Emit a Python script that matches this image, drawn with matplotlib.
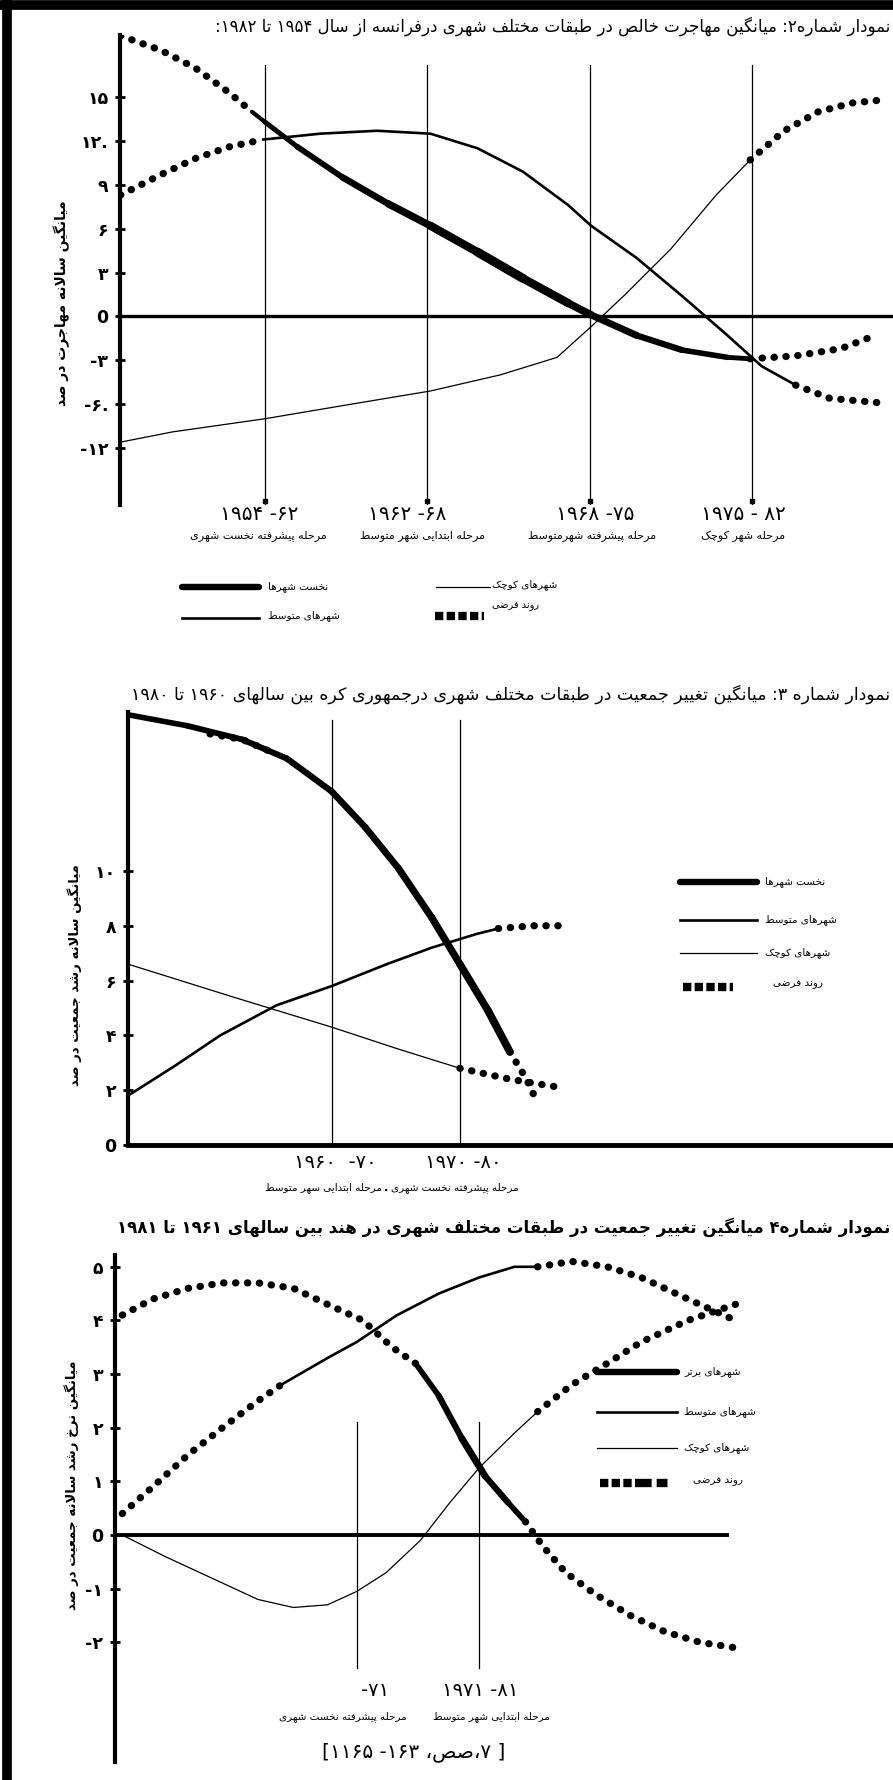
import re
import numpy as np
import matplotlib.pyplot as plt
from matplotlib.lines import Line2D
from matplotlib.collections import LineCollection

W, H = 893, 1780
plt.rcParams['font.family'] = ['DejaVu Sans']

# ---- chart 1: France, net migration (x = stage index, dividers at 1..4) ----
fr_yticks = [15, 12, 9, 6, 3, 0, -3, -6, -9]
fr_yticklabels = ['۱۵', '۱۲.', '۹', '۶', '۳', '0', '-۳', '-۶.', '-۱۲']
fr_periods = ['۱۹۵۴ -۶۲', '۱۹۶۲ -۶۸', '۱۹۶۸ -۷۵', '۱۹۷۵ - ۸۲']
fr_stages = ['مرحله پیشرفته نخست شهری', 'مرحله ابتدایی شهر متوسط',
             'مرحله پیشرفته شهرمتوسط', 'مرحله شهر کوچک']
fr_prime_x = [0.92, 1.0, 1.2, 1.48, 1.76, 2.02, 2.31, 2.59, 2.87, 3.01, 3.29, 3.57, 3.85, 3.99]
fr_prime_y = [14.0, 13.3, 11.6, 9.5, 7.7, 6.2, 4.4, 2.6, 0.9, 0.1, -1.3, -2.3, -2.8, -2.9]
fr_prime_pre_x = [0.11, 0.36, 0.57, 0.78, 0.92]
fr_prime_pre_y = [19.2, 18.2, 17.0, 15.3, 14.0]
fr_prime_post_x = [3.99, 4.27, 4.55, 4.76]
fr_prime_post_y = [-2.9, -2.7, -2.2, -1.3]
fr_mid_x = [0.99, 1.34, 1.69, 2.02, 2.31, 2.59, 2.87, 3.01, 3.29, 3.57, 3.85, 4.06, 4.27]
fr_mid_y = [12.1, 12.5, 12.7, 12.5, 11.5, 9.9, 7.6, 6.2, 4.0, 1.4, -1.3, -3.4, -4.7]
fr_mid_pre_x = [0.11, 0.36, 0.57, 0.78, 0.99]
fr_mid_pre_y = [8.3, 9.7, 10.8, 11.6, 12.1]
fr_mid_post_x = [4.27, 4.48, 4.78]
fr_mid_post_y = [-4.7, -5.6, -5.9]
fr_small_x = [0.11, 0.43, 1.0, 1.48, 2.02, 2.45, 2.80, 3.01, 3.22, 3.50, 3.78, 3.99]
fr_small_y = [-8.6, -7.9, -7.0, -6.1, -5.1, -4.0, -2.8, -0.7, 1.5, 4.6, 8.3, 10.7]
fr_small_post_x = [3.99, 4.20, 4.41, 4.62, 4.80]
fr_small_post_y = [10.7, 12.7, 14.0, 14.6, 14.8]

# ---- chart 2: Korea, population growth (dividers at 1, 2) ----
kr_yticks = [10, 8, 6, 4, 2, 0]
kr_yticklabels = ['۱۰', '۸', '۶', '۴', '۲', '0']
kr_periods = ['۱۹۶۰  -۷۰', '۱۹۷۰ -۸۰']
kr_prime_x = [-0.59, -0.13, 0.30, 0.65, 1.0, 1.26, 1.52, 1.78, 2.0, 2.22, 2.39]
kr_prime_y = [15.7, 15.3, 14.8, 14.1, 12.9, 11.6, 10.1, 8.3, 6.6, 4.9, 3.4]
kr_prime_hyp_x = [0.05, 0.30, 0.55]
kr_prime_hyp_y = [15.0, 14.8, 14.3]
kr_prime_post_x = [2.39, 2.52, 2.61]
kr_prime_post_y = [3.4, 2.4, 1.5]
kr_mid_x = [-0.59, -0.22, 0.13, 0.57, 1.0, 1.43, 1.78, 2.13, 2.30]
kr_mid_y = [1.8, 2.9, 4.0, 5.1, 5.8, 6.6, 7.2, 7.7, 7.9]
kr_mid_post_x = [2.30, 2.57, 2.78]
kr_mid_post_y = [7.9, 8.0, 8.0]
kr_small_x = [-0.59, 0.23, 1.0, 1.52, 2.0]
kr_small_y = [6.6, 5.4, 4.3, 3.5, 2.8]
kr_small_post_x = [2.0, 2.39, 2.78]
kr_small_post_y = [2.8, 2.4, 2.1]

# ---- chart 3: India, population growth (dividers at 1, 2) ----
in_yticks = [5, 4, 3, 2, 1, 0, -1, -2]
in_yticklabels = ['۵', '۴', '۳', '۲', '۱', '0', '-۱', '-۲']
in_periods = ['-۷۱', '۱۹۷۱ -۸۱']
in_stages = ['مرحله پیشرفته نخست شهری', 'مرحله ابتدایی شهر متوسط']
in_prime_pre_x = [-0.92, -0.67, -0.38, -0.10, 0.19, 0.48, 0.76, 1.05, 1.29, 1.48]
in_prime_pre_y = [4.1, 4.4, 4.6, 4.7, 4.7, 4.6, 4.3, 4.0, 3.5, 3.2]
in_prime_x = [1.48, 1.67, 1.86, 2.05, 2.24, 2.38]
in_prime_y = [3.2, 2.6, 1.8, 1.1, 0.6, 0.25]
in_prime_post_x = [2.38, 2.52, 2.71, 2.95, 3.24, 3.52, 3.81, 4.10]
in_prime_post_y = [0.25, -0.2, -0.7, -1.1, -1.5, -1.8, -2.0, -2.1]
in_mid_pre_x = [-0.92, -0.67, -0.38, -0.10, 0.19, 0.38]
in_mid_pre_y = [0.4, 0.9, 1.5, 2.0, 2.5, 2.8]
in_mid_x = [0.38, 0.76, 1.0, 1.33, 1.67, 2.0, 2.29, 2.48]
in_mid_y = [2.8, 3.3, 3.6, 4.1, 4.5, 4.8, 5.0, 5.0]
in_mid_post_x = [2.48, 2.76, 3.05, 3.33, 3.71, 4.10]
in_mid_post_y = [5.0, 5.1, 5.0, 4.8, 4.4, 4.0]
in_small_x = [-0.92, -0.57, -0.19, 0.19, 0.48, 0.76, 1.0, 1.24, 1.52, 1.76, 2.0, 2.29, 2.48]
in_small_y = [0.0, -0.4, -0.8, -1.2, -1.35, -1.3, -1.05, -0.7, -0.1, 0.6, 1.25, 1.9, 2.3]
in_small_post_x = [2.48, 2.76, 3.05, 3.33, 3.71, 4.10]
in_small_post_y = [2.3, 2.8, 3.2, 3.6, 4.0, 4.3]

# ---- simple persian shaping for DejaVu Sans (no RTL support in mpl) ----
FOUR = {'ب': 0xFE8F, 'ت': 0xFE95, 'ث': 0xFE99, 'ج': 0xFE9D, 'ح': 0xFEA1, 'خ': 0xFEA5,
        'س': 0xFEB1, 'ش': 0xFEB5, 'ص': 0xFEB9, 'ض': 0xFEBD, 'ط': 0xFEC1, 'ظ': 0xFEC5,
        'ع': 0xFEC9, 'غ': 0xFECD, 'ف': 0xFED1, 'ق': 0xFED5, 'ل': 0xFEDD, 'م': 0xFEE1,
        'ن': 0xFEE5, 'ه': 0xFEE9, 'ئ': 0xFE89, 'پ': 0xFB56, 'چ': 0xFB7A, 'ک': 0xFB8E,
        'گ': 0xFB92, 'ی': 0xFBFC}
TWO = {'ا': 0xFE8D, 'آ': 0xFE81, 'د': 0xFEA9, 'ذ': 0xFEAB, 'ر': 0xFEAD, 'ز': 0xFEAF,
       'ژ': 0xFB8A, 'و': 0xFEED}


def fa(text):
    out = []
    i, n = 0, len(text)
    while i < n:
        c = text[i]
        prev = text[i - 1] if i > 0 else ''
        nxt = text[i + 1] if i + 1 < n else ''
        p = prev in FOUR
        if c == 'ل' and nxt in ('ا', 'آ'):
            base = 0xFEFB if nxt == 'ا' else 0xFEF5
            out.append(chr(base + (1 if p else 0)))
            i += 2
            continue
        if c in FOUR:
            q = nxt in FOUR or nxt in TWO
            out.append(chr(FOUR[c] + (3 if p and q else 1 if p else 2 if q else 0)))
        elif c in TWO:
            out.append(chr(TWO[c] + (1 if p else 0)))
        elif c != '\u200c':
            out.append(c)
        i += 1
    s = ''.join(out[::-1])
    s = re.sub(r'[0-9۰-۹]+', lambda m: m.group(0)[::-1], s)
    return s.translate(str.maketrans('()[]', ')(]['))


fig = plt.figure(figsize=(W / 100, H / 100), dpi=100)


def px_axes(l, t, r, b):
    return fig.add_axes([l / W, 1 - b / H, (r - l) / W, (b - t) / H])


def ftext(x, y, s, **kw):
    kw.setdefault('va', 'center')
    fig.text(x / W, 1 - y / H, s, **kw)


def fline(x0, x1, y, **kw):
    fig.add_artist(Line2D([x0 / W, x1 / W], [1 - y / H] * 2, transform=fig.transFigure, **kw))


def tapered(ax, xs, ys, w0, w1, w2):
    # hand drawn thick line: thin at both ends, heavy in the middle
    pts = np.column_stack([xs, ys])
    segs = np.stack([pts[:-1], pts[1:]], axis=1)
    t = np.linspace(0, 1, len(segs))
    widths = np.where(t < 0.5, w0 + (w1 - w0) * t * 2, w1 + (w2 - w1) * (t - 0.5) * 2)
    ax.add_collection(LineCollection(segs, linewidths=widths, colors='k', capstyle='round'))


THICK = dict(color='k', lw=4.6, solid_capstyle='round')
MED = dict(color='k', lw=1.9)
THIN = dict(color='k', lw=0.9)
DOT = dict(color='k', lw=5.2, linestyle=(0, (0.05, 1.6)), dash_capstyle='round')
SQUARES = dict(color='k', lw=6, linestyle=(0, (1.0, 0.4)))


def base_axes(ax, xlim, ylim, ticks, labels):
    ax.set_xlim(xlim)
    ax.set_ylim(ylim)
    ax.patch.set_alpha(0)
    for s in ['top', 'right', 'bottom']:
        ax.spines[s].set_visible(False)
    ax.spines['left'].set_linewidth(3)
    ax.set_xticks([])
    ax.set_yticks(ticks)
    ax.set_yticklabels(labels, fontsize=12.5, fontweight='bold')
    ax.tick_params(axis='y', direction='inout', length=7, width=2, pad=5)


# border of the scanned page
fline(0, W, 5, color='k', lw=7)
fig.add_artist(Line2D([7 / W, 7 / W], [0, 1], transform=fig.transFigure, color='k', lw=7))

# ================= chart 1 =================
ax1 = px_axes(120, 35, 893, 505)
base_axes(ax1, (0.107, 4.87), (-12.9, 19.25), fr_yticks, fr_yticklabels)
ax1.axhline(0, color='k', lw=2.4)
for k in range(1, 5):
    ax1.plot([k, k], [17.2, -12.9], color='k', lw=0.9)
    ax1.plot([k], [-12.6], marker='s', ms=3, color='k', clip_on=False)
ax1.plot(fr_prime_pre_x, fr_prime_pre_y, **DOT)
tapered(ax1, fr_prime_x, fr_prime_y, 3.0, 6.5, 3.5)
ax1.plot(fr_prime_post_x, fr_prime_post_y, **DOT)
ax1.plot(fr_mid_pre_x, fr_mid_pre_y, **DOT)
ax1.plot(fr_mid_x, fr_mid_y, **MED)
ax1.plot(fr_mid_post_x, fr_mid_post_y, **DOT)
ax1.plot(fr_small_x, fr_small_y, **THIN)
ax1.plot(fr_small_post_x, fr_small_post_y, **DOT)

ftext(890, 26, fa('نمودار شماره۲: میانگین مهاجرت خالص در طبقات مختلف شهری درفرانسه از سال ۱۹۵۴ تا ۱۹۸۲:'),
      ha='right', fontsize=12)
ftext(62, 303, fa('میانگین سالانه مهاجرت در صد'), rotation=90, ha='center', fontsize=10, fontweight='bold')
for cx, per in zip([259, 407, 595, 743], fr_periods):
    ftext(cx, 514, per, ha='center', fontsize=14.5)
for cx, st in zip([258, 423, 592, 743], fr_stages):
    ftext(cx, 536, fa(st), ha='center', fontsize=8)
fline(182, 259, 587, **THICK)
ftext(268, 587, fa('نخست شهرها'), ha='left', fontsize=7.5)
fline(436, 490, 587, **THIN)
ftext(492, 585, fa('شهرهای کوچک'), ha='left', fontsize=7.5)
fline(182, 259, 618, **MED)
ftext(268, 616, fa('شهرهای متوسط'), ha='left', fontsize=7.5)
fline(435, 484, 616, **SQUARES)
ftext(492, 606, fa('روند فرضی'), ha='left', fontsize=7)

# ================= chart 2 =================
ax2 = px_axes(128, 712, 893, 1145)
base_axes(ax2, (-0.59, 5.38), (0, 15.8), kr_yticks, kr_yticklabels)
ax2.axhline(0, color='k', lw=3.5, clip_on=False)
for k in (1, 2):
    ax2.plot([k, k], [15.5, 0], color='k', lw=0.9)
tapered(ax2, kr_prime_x, kr_prime_y, 4.0, 4.8, 5.6)
ax2.plot(kr_prime_hyp_x, kr_prime_hyp_y, **DOT)
ax2.plot(kr_prime_post_x, kr_prime_post_y, **DOT)
ax2.plot(kr_mid_x, kr_mid_y, **MED)
ax2.plot(kr_mid_post_x, kr_mid_post_y, **DOT)
ax2.plot(kr_small_x, kr_small_y, **THIN)
ax2.plot(kr_small_post_x, kr_small_post_y, **DOT)

ftext(890, 694, fa('نمودار شماره ۳: میانگین تغییر جمعیت در طبقات مختلف شهری درجمهوری کره بین سالهای ۱۹۶۰ تا ۱۹۸۰'),
      ha='right', fontsize=12.5)
ftext(75, 975, fa('میانگین سالانه رشد جمعیت در صد'), rotation=90, ha='center', fontsize=9.5, fontweight='bold')
for cx, per in zip([335, 463], kr_periods):
    ftext(cx, 1163, per, ha='center', fontsize=14)
ftext(382, 1188, fa('مرحله ابتدایی سهر متوسط'), ha='right', fontsize=7.5)
ftext(386, 1188, '.', ha='center', fontsize=8, fontweight='bold')
ftext(391, 1188, fa('مرحله پیشرفته نخست شهری'), ha='left', fontsize=7.5)
leg2 = [('نخست شهرها', 882, THICK), ('شهرهای متوسط', 920, MED), ('شهرهای کوچک', 953, THIN)]
for lab, y, sty in leg2:
    fline(680, 757, y, **sty)
    ftext(765, y, fa(lab), ha='left', fontsize=7.5)
fline(683, 733, 987, **SQUARES)
ftext(773, 984, fa('روند فرضی'), ha='left', fontsize=7.5)

# ================= chart 3 =================
ax3 = px_axes(115, 1255, 893, 1762)
base_axes(ax3, (-0.98, 5.39), (-4.23, 5.22), in_yticks, in_yticklabels)
ax3.plot([-0.98, 4.03], [0, 0], color='k', lw=2.8)
for k in (1, 2):
    ax3.plot([k, k], [2.1, -2.48], color='k', lw=0.9)
ax3.plot(in_prime_pre_x, in_prime_pre_y, **DOT)
tapered(ax3, in_prime_x, in_prime_y, 4.0, 5.0, 4.0)
ax3.plot(in_prime_post_x, in_prime_post_y, **DOT)
ax3.plot(in_mid_pre_x, in_mid_pre_y, **DOT)
ax3.plot(in_mid_x, in_mid_y, **MED)
ax3.plot(in_mid_post_x, in_mid_post_y, **DOT)
ax3.plot(in_small_x, in_small_y, **THIN)
ax3.plot(in_small_post_x, in_small_post_y, **DOT)

ftext(890, 1227, fa('نمودار شماره۴ میانگین تغییر جمعیت در طبقات مختلف شهری در هند بین سالهای ۱۹۶۱ تا ۱۹۸۱'),
      ha='right', fontsize=12, fontweight='bold')
ftext(72, 1485, fa('میانگین نرخ رشد سالانه جمعیت در صد'), rotation=90, ha='center', fontsize=9.5, fontweight='bold')
for cx, per in zip([375, 480], in_periods):
    ftext(cx, 1690, per, ha='center', fontsize=14)
for cx, st in zip([343, 491], in_stages):
    ftext(cx, 1717, fa(st), ha='center', fontsize=7.5)
leg3 = [('شهرهای برتر', 1372, THICK), ('شهرهای متوسط', 1412, MED), ('شهرهای کوچک', 1448, THIN)]
for lab, y, sty in leg3:
    fline(597, 677, y, **sty)
    ftext(684, y, fa(lab), ha='left', fontsize=7.5)
fline(600, 678, 1483, color='k', lw=6,
      linestyle=(0, (1.0, 0.4, 1.0, 0.4, 1.0, 0.4, 2.0, 0.6, 1.3, 20)))
ftext(693, 1481, fa('روند فرضی'), ha='left', fontsize=7.5)
ftext(414, 1752, '[۱۱۶۵ -۱۶۳ ،' + fa('صص') + '،۷ ]', ha='center', fontsize=14.5)

fig.savefig('out.png', dpi=100)
